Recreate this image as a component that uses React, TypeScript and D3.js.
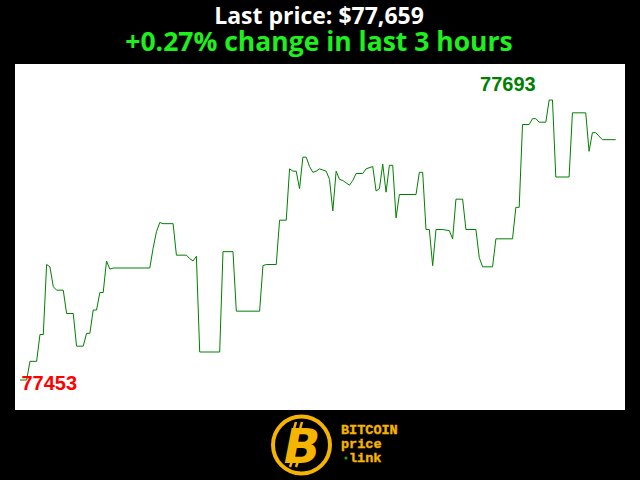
import React from "react";
import * as d3 from "d3";

const minutes = [0, 2, 3, 5, 6, 7, 8, 9, 10, 11, 13, 14, 16, 17, 19, 20, 21, 22, 23, 24, 25, 26, 27, 28, 39, 40, 41, 42, 43, 46, 47, 50, 51, 52, 53, 54, 60, 61, 64, 65, 72, 73, 74, 77, 78, 80, 81, 82, 83, 84, 85, 86, 87, 88, 89, 90, 91, 92, 93, 94, 95, 96, 97, 99, 100, 101, 103, 104, 106, 107, 108, 109, 110, 111, 112, 113, 114, 119, 120, 121, 122, 123, 124, 125, 127, 129, 130, 131, 133, 134, 137, 138, 139, 142, 143, 148, 149, 150, 151, 153, 154, 155, 156, 158, 159, 160, 161, 165, 166, 170, 171, 172, 173, 175, 179];
const prices = [77453, 77453, 77469, 77469, 77492, 77492, 77552, 77550, 77533, 77530, 77530, 77510, 77510, 77482, 77482, 77493, 77493, 77513, 77513, 77528, 77528, 77555, 77548, 77549, 77549, 77566, 77580, 77588, 77587, 77587, 77560, 77560, 77557, 77555, 77559, 77477, 77477, 77563, 77563, 77512, 77512, 77551, 77552, 77552, 77590, 77590, 77634, 77632, 77632, 77617, 77644, 77644, 77636, 77631, 77632, 77634, 77633, 77632, 77625, 77598, 77632, 77625, 77624, 77620, 77624, 77630, 77630, 77634, 77636, 77615, 77617, 77638, 77614, 77637, 77637, 77592, 77612, 77612, 77631, 77631, 77582, 77582, 77551, 77582, 77582, 77581, 77574, 77608, 77608, 77582, 77582, 77558, 77550, 77550, 77574, 77574, 77601, 77601, 77672, 77672, 77677, 77677, 77674, 77674, 77693, 77693, 77627, 77627, 77682, 77682, 77649, 77665, 77665, 77659, 77659];

const titleText = "Last price: $77,659";
const subtitleText = "+0.27% change in last 3 hours";

export default function App() {
  const W = 640, H = 480;
  const data = minutes.map((m, i) => ({ m, p: prices[i] }));
  const minP = d3.min(prices)!;
  const maxP = d3.max(prices)!;
  const x = d3.scaleLinear().domain([0, 179]).range([20, 615.7]);
  const y = d3.scaleLinear().domain([minP, maxP]).range([380, 100]);
  const line = d3.line<{ m: number; p: number }>().x(d => x(d.m)).y(d => y(d.p));
  const maxIdx = prices.indexOf(maxP);
  const minIdx = prices.indexOf(minP);
  const gold = "#f5b400";
  return (
    <svg width={W} height={H} style={{ position: "absolute", left: 0, top: 0, background: "#000" }}>
      <rect x={0} y={0} width={W} height={H} fill="#000" />
      <text x={319} y={23.5} textAnchor="middle" fill="#fff" fontFamily="'Open Sans', sans-serif" fontWeight="bold" fontSize={23}>{titleText}</text>
      <text x={319} y={50.5} textAnchor="middle" fill="#1ef01e" fontFamily="'Open Sans', sans-serif" fontWeight="bold" fontSize={26.5}>{subtitleText}</text>
      <rect x={15} y={64} width={610} height={346} fill="#fff" />
      <path d={line(data) || ""} fill="none" stroke="#008000" strokeWidth={1} />
      <text x={x(minutes[minIdx]) + 1.5} y={390} fill="#ff0000" fontFamily="'Liberation Sans', Arial, sans-serif" fontWeight="bold" fontSize={20}>{String(minP)}</text>
      <text x={x(minutes[maxIdx]) - 13.5} y={90.5} textAnchor="end" fill="#008000" fontFamily="'Liberation Sans', Arial, sans-serif" fontWeight="bold" fontSize={20}>{String(maxP)}</text>
      <g>
        <circle cx={301.5} cy={445} r={28.5} fill="#000" stroke={gold} strokeWidth={4} />
        <text x={302} y={463} textAnchor="middle" fill={gold} fontFamily="'DejaVu Sans', sans-serif" fontWeight="bold" fontStyle="italic" fontSize={48}>B</text>
        <line x1={296} y1={422} x2={294} y2={429} stroke={gold} strokeWidth={2.5} />
        <line x1={302} y1={422} x2={300} y2={429} stroke={gold} strokeWidth={2.5} />
        <line x1={292} y1={461} x2={290} y2={467} stroke={gold} strokeWidth={2.5} />
        <line x1={298} y1={461} x2={296} y2={467} stroke={gold} strokeWidth={2.5} />
        <text x={341} y={434} fill={gold} stroke={gold} strokeWidth={0.4} fontFamily="'Liberation Mono', monospace" fontWeight="bold" fontSize={13.5}>BITCOIN</text>
        <text x={341} y={448} fill={gold} stroke={gold} strokeWidth={0.4} fontFamily="'Liberation Mono', monospace" fontWeight="bold" fontSize={13.5}>price</text>
        <circle cx={346} cy={458} r={1.6} fill="#1fa01f" />
        <text x={349} y={461.5} fill={gold} stroke={gold} strokeWidth={0.4} fontFamily="'Liberation Mono', monospace" fontWeight="bold" fontSize={13.5}>link</text>
      </g>
    </svg>
  );
}
